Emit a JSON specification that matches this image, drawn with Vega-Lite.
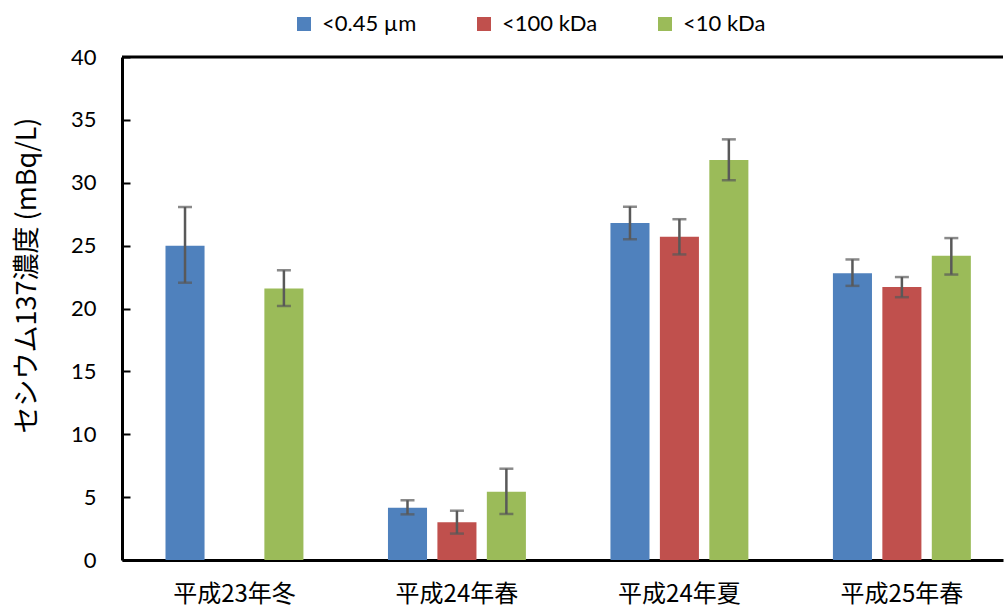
{
  "$schema": "https://vega.github.io/schema/vega-lite/v6.json",
  "width": 881,
  "height": 503,
  "autosize": {"type": "none"},
  "padding": {"left": 122, "top": 57, "right": 1, "bottom": 48},
  "background": "white",
  "config": {
    "view": {"stroke": null},
    "font": "Noto Sans CJK JP",
    "axis": {"labelFont": "Noto Sans CJK JP", "titleFont": "Noto Sans CJK JP", "labelColor": "#000", "titleColor": "#000"}
  },
  "data": {
    "values": [
      {"group": "平成23年冬", "series": "<0.45 µm", "value": 25.0, "lo": 22.05, "hi": 28.07},
      {"group": "平成23年冬", "series": "<10 kDa", "value": 21.6, "lo": 20.2, "hi": 23.04},
      {"group": "平成24年春", "series": "<0.45 µm", "value": 4.16, "lo": 3.63, "hi": 4.75},
      {"group": "平成24年春", "series": "<100 kDa", "value": 3.0, "lo": 2.1, "hi": 3.92},
      {"group": "平成24年春", "series": "<10 kDa", "value": 5.43, "lo": 3.66, "hi": 7.26},
      {"group": "平成24年夏", "series": "<0.45 µm", "value": 26.8, "lo": 25.5, "hi": 28.1},
      {"group": "平成24年夏", "series": "<100 kDa", "value": 25.7, "lo": 24.3, "hi": 27.1},
      {"group": "平成24年夏", "series": "<10 kDa", "value": 31.8, "lo": 30.2, "hi": 33.45},
      {"group": "平成25年春", "series": "<0.45 µm", "value": 22.8, "lo": 21.8, "hi": 23.9},
      {"group": "平成25年春", "series": "<100 kDa", "value": 21.7, "lo": 20.9, "hi": 22.5},
      {"group": "平成25年春", "series": "<10 kDa", "value": 24.2, "lo": 22.7, "hi": 25.6}
    ]
  },
  "encoding": {
    "x": {
      "field": "group", "type": "nominal",
      "sort": ["平成23年冬", "平成24年春", "平成24年夏", "平成25年春"],
      "scale": {"paddingInner": 0.38, "paddingOuter": 0.17, "align": 0.575},
      "axis": {"title": null, "labelAngle": 0, "labelFontSize": 24, "labelPadding": 22, "ticks": false, "domainColor": "#000", "domainWidth": 3}
    },
    "xOffset": {
      "field": "series", "type": "nominal",
      "sort": ["<0.45 µm", "<100 kDa", "<10 kDa"],
      "scale": {"domain": ["<0.45 µm", "<100 kDa", "<10 kDa"], "paddingInner": 0.21, "paddingOuter": 0}
    }
  },
  "layer": [
    {
      "mark": {"type": "bar"},
      "encoding": {
        "y": {
          "field": "value", "type": "quantitative",
          "scale": {"domain": [0, 40]},
          "axis": {
            "title": "セシウム137濃度  (mBq/L)", "titleFontSize": 27, "titleFontWeight": "normal", "titlePadding": 29, "titleY": 218,
            "values": [0, 5, 10, 15, 20, 25, 30, 35, 40],
            "labelFontSize": 22, "labelFont": "Lato", "labelPadding": 34,
            "grid": false, "tickSize": -8, "tickColor": "#000", "tickWidth": 2,
            "domainColor": "#000", "domainWidth": 3
          }
        },
        "color": {
          "field": "series", "type": "nominal",
          "scale": {"domain": ["<0.45 µm", "<100 kDa", "<10 kDa"], "range": ["#4F81BD", "#C0504D", "#9BBB59"]},
          "legend": {
            "title": null, "orient": "none", "direction": "horizontal",
            "legendX": 171, "legendY": -44,
            "symbolType": "square", "symbolSize": 196, "symbolStrokeWidth": 0,
            "labelFontSize": 22, "labelFont": "Lato", "labelColor": "#000",
            "columnPadding": 56, "labelOffset": 7
          }
        }
      }
    },
    {
      "mark": {"type": "rule", "color": "#595959", "strokeWidth": 2.5},
      "encoding": {
        "y": {"field": "lo", "type": "quantitative"},
        "y2": {"field": "hi"}
      }
    },
    {
      "mark": {"type": "tick", "color": "#595959", "thickness": 2.5, "size": 14},
      "encoding": {"y": {"field": "lo", "type": "quantitative"}}
    },
    {
      "mark": {"type": "tick", "color": "#595959", "thickness": 2.5, "size": 14},
      "encoding": {"y": {"field": "hi", "type": "quantitative"}}
    },
    {
      "data": {"values": [{"top": 40}]},
      "mark": {"type": "rule", "color": "#000", "strokeWidth": 3},
      "encoding": {"y": {"field": "top", "type": "quantitative"}, "x": null, "xOffset": null}
    }
  ]
}
